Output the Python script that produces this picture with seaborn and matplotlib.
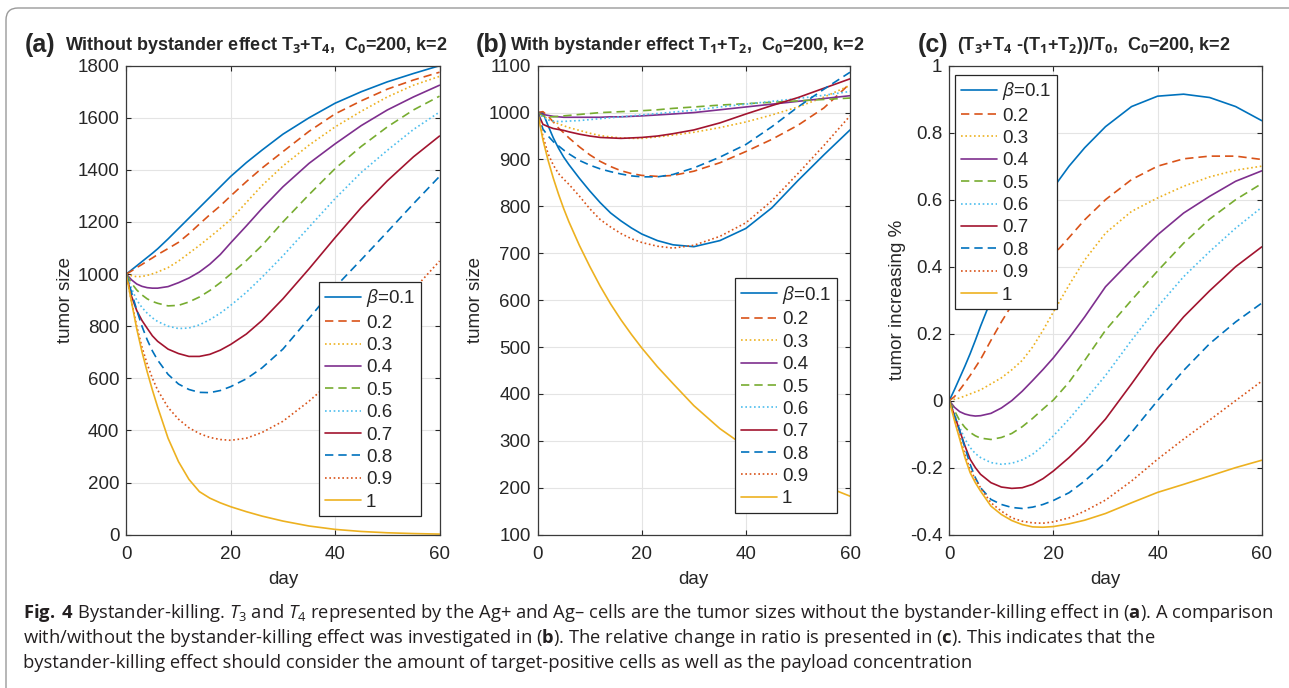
import numpy as np
import pandas as pd
import seaborn as sns
import matplotlib.pyplot as plt
from matplotlib.patches import FancyBboxPatch
from matplotlib.ticker import FuncFormatter

# sampled days (same for all three panels)
days = [0, 1, 2, 3, 4, 5, 6, 8, 10, 12, 14, 16, 18, 20, 23, 26, 30, 35, 40, 45, 50, 55, 60]
betas = ["0.1", "0.2", "0.3", "0.4", "0.5", "0.6", "0.7", "0.8", "0.9", "1"]

# (a) without bystander effect, T3+T4
size_without = [
    [1000, 1016, 1032, 1048, 1064, 1080, 1097, 1135, 1175, 1215, 1255, 1295, 1335, 1375, 1428, 1476, 1537, 1600, 1656, 1700, 1738, 1770, 1800],
    [1000, 1012, 1025, 1037, 1050, 1062, 1075, 1098, 1122, 1155, 1192, 1228, 1262, 1300, 1355, 1407, 1470, 1548, 1615, 1665, 1710, 1745, 1775],
    [1000, 994, 990, 991, 995, 1001, 1008, 1025, 1050, 1080, 1110, 1142, 1175, 1210, 1275, 1340, 1415, 1495, 1565, 1625, 1680, 1725, 1759],
    [1000, 978, 962, 953, 948, 946, 946, 952, 967, 985, 1008, 1038, 1075, 1120, 1185, 1252, 1335, 1425, 1500, 1570, 1630, 1680, 1725],
    [1000, 965, 939, 920, 905, 895, 888, 878, 880, 893, 912, 937, 967, 1000, 1052, 1110, 1200, 1305, 1405, 1490, 1565, 1630, 1683],
    [1000, 945, 900, 872, 850, 832, 818, 800, 791, 793, 805, 825, 850, 880, 930, 988, 1070, 1180, 1290, 1390, 1475, 1555, 1622],
    [1000, 915, 860, 822, 792, 763, 742, 712, 695, 684, 684, 692, 708, 730, 770, 822, 905, 1020, 1140, 1255, 1358, 1450, 1530],
    [1000, 930, 862, 800, 748, 705, 670, 615, 578, 557, 546, 545, 553, 568, 598, 640, 712, 830, 950, 1055, 1162, 1270, 1375],
    [1000, 895, 800, 720, 655, 600, 555, 488, 443, 410, 388, 373, 365, 362, 370, 392, 435, 512, 600, 710, 825, 940, 1050],
    [1000, 893, 790, 702, 625, 555, 490, 370, 280, 212, 165, 140, 122, 107, 88, 71, 52, 33, 20, 12, 7, 4, 2],
]

# (b) with bystander effect, T1+T2
size_with = [
    [1000, 1000, 972, 946, 924, 905, 889, 860, 833, 808, 786, 769, 754, 741, 727, 718, 714, 727, 753, 797, 855, 910, 963],
    [1000, 1002, 992, 980, 967, 957, 946, 927, 910, 896, 885, 876, 870, 866, 864, 866, 875, 893, 917, 943, 973, 1010, 1062],
    [1000, 993, 987, 981, 976, 972, 968, 962, 956, 951, 948, 946, 945, 945, 948, 952, 958, 968, 980, 995, 1012, 1033, 1058],
    [1000, 996, 994, 992, 991, 990, 990, 990, 990, 990, 991, 991, 992, 993, 995, 997, 1000, 1006, 1012, 1018, 1024, 1030, 1036],
    [1000, 993, 991, 991, 992, 993, 994, 996, 998, 1000, 1001, 1002, 1003, 1004, 1006, 1009, 1012, 1016, 1019, 1022, 1025, 1028, 1031],
    [1000, 990, 984, 982, 981, 981, 982, 983, 985, 987, 989, 991, 993, 995, 998, 1001, 1005, 1012, 1018, 1024, 1030, 1037, 1045],
    [1000, 975, 970, 966, 964, 962, 959, 954, 950, 947, 946, 945, 946, 947, 950, 955, 963, 978, 997, 1015, 1032, 1052, 1072],
    [1000, 965, 950, 938, 929, 920, 912, 898, 888, 880, 874, 869, 865, 863, 863, 868, 882, 905, 932, 970, 1012, 1050, 1086],
    [1000, 950, 912, 888, 870, 858, 847, 822, 795, 772, 756, 742, 731, 723, 715, 711, 717, 736, 765, 812, 870, 930, 993],
    [1000, 942, 898, 860, 826, 795, 767, 717, 672, 630, 592, 558, 527, 498, 458, 422, 375, 326, 287, 255, 228, 204, 182],
]

# (c) relative change (T3+T4-(T1+T2))/T0
rel_change = [
    [0, 0.033, 0.068, 0.103, 0.14, 0.18, 0.222, 0.30, 0.37, 0.432, 0.487, 0.537, 0.587, 0.636, 0.70, 0.755, 0.818, 0.878, 0.909, 0.915, 0.905, 0.878, 0.836],
    [0, 0.012, 0.032, 0.053, 0.075, 0.099, 0.123, 0.18, 0.235, 0.285, 0.325, 0.362, 0.40, 0.435, 0.487, 0.54, 0.60, 0.66, 0.70, 0.722, 0.73, 0.73, 0.72],
    [0, 0.004, 0.008, 0.014, 0.02, 0.026, 0.032, 0.05, 0.068, 0.092, 0.12, 0.16, 0.21, 0.265, 0.345, 0.42, 0.50, 0.565, 0.605, 0.64, 0.668, 0.688, 0.70],
    [0, -0.02, -0.033, -0.04, -0.044, -0.046, -0.045, -0.038, -0.022, 0.0, 0.028, 0.06, 0.093, 0.128, 0.187, 0.25, 0.34, 0.42, 0.495, 0.56, 0.61, 0.655, 0.686],
    [0, -0.03, -0.06, -0.08, -0.095, -0.105, -0.112, -0.116, -0.11, -0.098, -0.078, -0.053, -0.025, 0.002, 0.055, 0.12, 0.21, 0.30, 0.387, 0.47, 0.542, 0.60, 0.648],
    [0, -0.04, -0.08, -0.115, -0.14, -0.158, -0.17, -0.185, -0.19, -0.187, -0.177, -0.16, -0.135, -0.105, -0.055, 0.0, 0.075, 0.18, 0.28, 0.37, 0.445, 0.515, 0.577],
    [0, -0.045, -0.09, -0.135, -0.175, -0.20, -0.22, -0.245, -0.258, -0.262, -0.26, -0.25, -0.233, -0.21, -0.17, -0.125, -0.055, 0.05, 0.158, 0.25, 0.328, 0.40, 0.459],
    [0, -0.045, -0.09, -0.14, -0.19, -0.23, -0.26, -0.295, -0.31, -0.319, -0.322, -0.318, -0.31, -0.298, -0.275, -0.24, -0.185, -0.095, 0.0, 0.09, 0.17, 0.235, 0.291],
    [0, -0.055, -0.11, -0.16, -0.205, -0.235, -0.26, -0.305, -0.33, -0.35, -0.36, -0.365, -0.366, -0.362, -0.35, -0.33, -0.297, -0.24, -0.175, -0.115, -0.058, 0.0, 0.058],
    [0, -0.06, -0.115, -0.17, -0.215, -0.245, -0.27, -0.315, -0.34, -0.358, -0.37, -0.377, -0.378, -0.376, -0.368, -0.357, -0.337, -0.305, -0.274, -0.25, -0.225, -0.20, -0.178],
]

# MATLAB default line colours, cycled with -, --, :
colors = ["#0072BD", "#D95319", "#EDB120", "#7E2F8E", "#77AC30",
          "#4DBEEE", "#A2142F", "#0072BD", "#D95319", "#EDB120"]
dash_specs = ["", (5, 3), (1, 1.6), "", (5, 3), (1, 1.6), "", (5, 3), (1, 1.6), ""]
labels = [r"$\mathit{\beta}$=0.1"] + betas[1:]

sns.set_theme(style="ticks")
plt.rcParams["font.family"] = ["Liberation Sans", "DejaVu Sans"]
plt.rcParams["axes.unicode_minus"] = False
plt.rcParams["mathtext.fontset"] = "custom"
plt.rcParams["mathtext.rm"] = "Open Sans"
plt.rcParams["mathtext.it"] = "Open Sans:italic"
plt.rcParams["mathtext.bf"] = "Open Sans:bold"

W, H = 1289, 688
fig = plt.figure(figsize=(W / 100, H / 100), dpi=100)
fig.patch.set_facecolor("white")

# rounded frame around the figure (only top/left visible)
frame = FancyBboxPatch((6, -40), 1400, H - 8 + 40, boxstyle="round,pad=0,rounding_size=12",
                       transform=None, fill=False, edgecolor="#9a9a9a", linewidth=1.0)
fig.patches.append(frame)


def px_axes(left, right, top=65.7, bottom=534.6):
    return fig.add_axes([left / W, 1 - bottom / H, (right - left) / W, (bottom - top) / H])


def long_frame(rows):
    return pd.DataFrame({
        "day": days * len(rows),
        "value": [v for row in rows for v in row],
        "beta": np.repeat(betas, len(days)),
    })


def draw_panel(ax, rows, ylim, yticks, ylabel, ylabel_x, legend_kw):
    sns.lineplot(data=long_frame(rows), x="day", y="value", hue="beta", style="beta",
                 hue_order=betas, style_order=betas, palette=colors, dashes=dash_specs,
                 linewidth=1.2, errorbar=None, legend=False, ax=ax)
    ax.set_xlim(0, 60)
    ax.set_xticks([0, 20, 40, 60])
    ax.set_ylim(*ylim)
    ax.set_yticks(yticks)
    ax.yaxis.set_major_formatter(FuncFormatter(lambda v, p: f"{v:g}"))
    ax.grid(True, color="#e4e4e4", linewidth=0.8)
    ax.tick_params(direction="in", length=3.5, width=0.8, top=True, right=True,
                   labelsize=13.5, colors="#262626", labelcolor="#262626")
    ax.tick_params(axis="x", pad=8)
    ax.tick_params(axis="y", pad=5)
    for s in ax.spines.values():
        s.set_visible(True)
        s.set_color("#3a3a3a")
        s.set_linewidth(0.9)
    ax.set_xlabel("day", fontsize=13.5, color="#262626")
    ax.set_ylabel(ylabel, fontsize=13.5, color="#262626")
    ax.xaxis.set_label_coords(0.5, -0.078)
    ax.yaxis.set_label_coords(ylabel_x, 0.5)
    leg = ax.legend(ax.lines[:10], labels, frameon=True, fancybox=False, framealpha=1,
                    edgecolor="#262626", fontsize=13.5, handlelength=1.95,
                    handletextpad=0.25, labelspacing=0.28, borderpad=0.3,
                    borderaxespad=0, **legend_kw)
    leg.get_frame().set_linewidth(0.9)


ax_a = px_axes(126.3, 439.5)
draw_panel(ax_a, size_without, (0, 1800), list(range(0, 1801, 200)), "tumor size", -0.167,
           dict(loc="lower right", bbox_to_anchor=(0.941, 0.039)))

ax_b = px_axes(537.7, 850.0)
draw_panel(ax_b, size_with, (100, 1100), list(range(100, 1101, 100)), "tumor size", -0.172,
           dict(loc="lower right", bbox_to_anchor=(0.958, 0.046)))

ax_c = px_axes(949.3, 1261.7)
draw_panel(ax_c, rel_change, (-0.4, 1), [-0.4, -0.2, 0, 0.2, 0.4, 0.6, 0.8, 1],
           "tumor increasing %", -0.139,
           dict(loc="upper left", bbox_to_anchor=(0.018, 0.981)))

# panel titles
title_y = 1 - 45 / H
titles = [
    (25, 65, "(a)", r"Without bystander effect T$_\mathbf{3}$+T$_\mathbf{4}$,  C$_\mathbf{0}$=200, k=2"),
    (476, 510, "(b)", r"With bystander effect T$_\mathbf{1}$+T$_\mathbf{2}$,  C$_\mathbf{0}$=200, k=2"),
    (918, 957, "(c)", r"(T$_\mathbf{3}$+T$_\mathbf{4}$ -(T$_\mathbf{1}$+T$_\mathbf{2}$))/T$_\mathbf{0}$,  C$_\mathbf{0}$=200, k=2"),
]
for x_tag, x_txt, tag, txt in titles:
    fig.text(x_tag / W, title_y, tag, fontsize=18, fontweight="bold", ha="left", va="center")
    fig.text(x_txt / W, title_y, txt, fontsize=13, fontweight="bold", ha="left", va="center")

# caption
caption = [
    r"$\mathbf{Fig.\;4}$ Bystander-killing. $\mathit{T}_3$ and $\mathit{T}_4$ represented by the Ag+ and Ag– cells are the tumor sizes without the bystander-killing effect in ($\mathbf{a}$). A comparison",
    r"with/without the bystander-killing effect was investigated in ($\mathbf{b}$). The relative change in ratio is presented in ($\mathbf{c}$). This indicates that the",
    "bystander-killing effect should consider the amount of target-positive cells as well as the payload concentration",
]
for i, line in enumerate(caption):
    fig.text(23 / W, 1 - (618 + 25 * i) / H, line, fontsize=13.2, family="Open Sans",
             color="#231f20", ha="left", va="baseline")

fig.savefig("out.png", dpi=100)
